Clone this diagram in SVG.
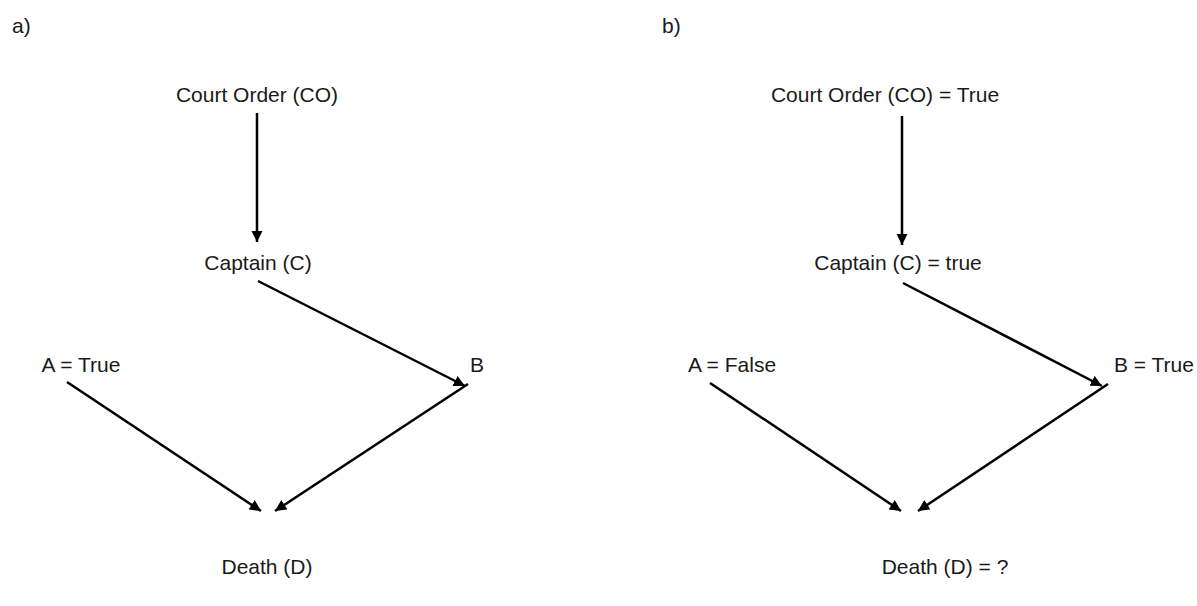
<svg xmlns="http://www.w3.org/2000/svg" width="1197" height="606" viewBox="0 0 1197 606">
  <defs>
    <marker id="arrow" viewBox="0 0 10 10" refX="10" refY="5" markerWidth="4.5" markerHeight="4.5" orient="auto" markerUnits="strokeWidth">
      <path d="M0,0 L10,5 L0,10 z" fill="#000"/>
    </marker>
    <style>
      text { font-family: "Liberation Sans", Arial, sans-serif; font-size: 21px; fill: #1a1a1a; }
      .mid { text-anchor: middle; }
      .edge { stroke: #000; stroke-width: 2.5; fill: none; marker-end: url(#arrow); }
    </style>
  </defs>

  <text x="12" y="33">a)</text>
  <text x="662" y="33">b)</text>

  <!-- panel a nodes -->
  <g id="a-co"><text class="mid" x="257" y="102">Court Order (CO)</text></g>
  <g id="a-c"><text class="mid" x="258" y="270">Captain (C)</text></g>
  <g id="a-a"><text class="mid" x="81" y="372">A = True</text></g>
  <g id="a-b"><text class="mid" x="477" y="372">B</text></g>
  <g id="a-d"><text class="mid" x="267" y="574">Death (D)</text></g>

  <!-- panel b nodes -->
  <g id="b-co"><text class="mid" x="885" y="102">Court Order (CO) = True</text></g>
  <g id="b-c"><text class="mid" x="898" y="270">Captain (C) = true</text></g>
  <g id="b-a"><text class="mid" x="732" y="372">A = False</text></g>
  <g id="b-b"><text class="mid" x="1154" y="372">B = True</text></g>
  <g id="b-d"><text class="mid" x="945" y="574">Death (D) = ?</text></g>

  <!-- connectors -->
  <g id="edges">
    <line class="edge" x1="257" y1="113" x2="257" y2="242"/>
    <line class="edge" x1="258" y1="281" x2="465" y2="386"/>
    <line class="edge" x1="67" y1="382" x2="261" y2="511"/>
    <line class="edge" x1="468" y1="384" x2="275" y2="511"/>

    <line class="edge" x1="902" y1="116" x2="902" y2="245"/>
    <line class="edge" x1="903" y1="283" x2="1102" y2="386"/>
    <line class="edge" x1="710" y1="383" x2="901" y2="511"/>
    <line class="edge" x1="1108" y1="384" x2="918" y2="511"/>
  </g>
</svg>
